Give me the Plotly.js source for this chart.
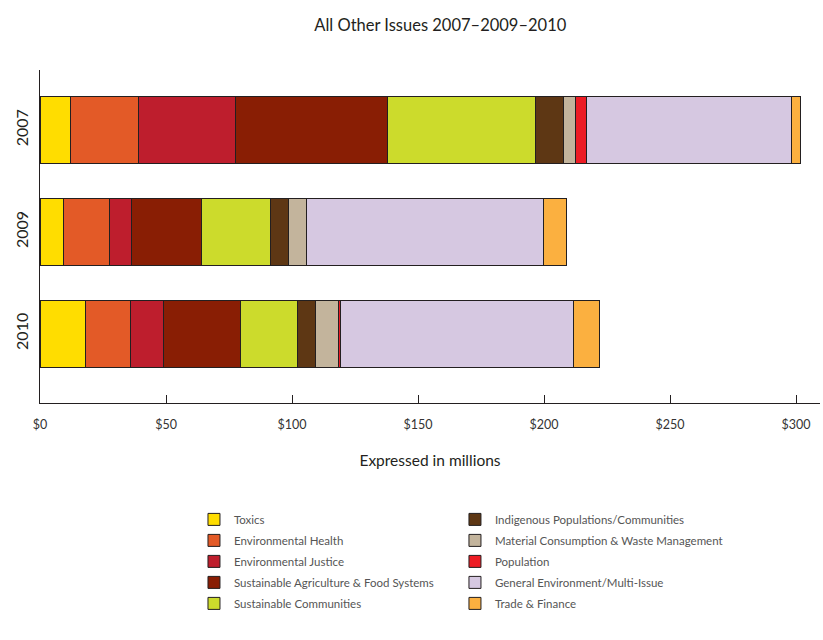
<!DOCTYPE html>
<html>
<head>
<meta charset="utf-8">
<script src="https://cdn.plot.ly/plotly-3.0.1.min.js"></script>
<style>html,body{margin:0;padding:0;background:#fff;}#chart{width:823px;height:640px;}</style>
</head>
<body>
<div id="chart"></div>
<script>
var years = ["2007", "2009", "2010"];
var seriesNames = ["Toxics", "Environmental Health", "Environmental Justice", "Sustainable Agriculture & Food Systems", "Sustainable Communities", "Indigenous Populations/Communities", "Material Consumption & Waste Management", "Population", "General Environment/Multi-Issue", "Trade & Finance"];
var seriesColors = ["#FFDD00", "#E35A27", "#BE1E2D", "#891E04", "#CCDB2C", "#5E3714", "#C3B49C", "#ED1C24", "#D6C8E1", "#FBB040"];
var legendColumn = ["legend", "legend", "legend", "legend", "legend", "legend2", "legend2", "legend2", "legend2", "legend2"];
var toxics = [12.2, 9.4, 17.9];
var envHealth = [26.9, 18.2, 18.0];
var envJustice = [38.3, 8.7, 13.0];
var sustAgriculture = [60.5, 27.6, 30.5];
var sustCommunities = [58.9, 27.7, 22.9];
var indigenous = [11.0, 7.1, 7.1];
var materialWaste = [4.8, 6.9, 9.2];
var population = [4.3, 0, 0.7];
var generalEnv = [81.1, 94.1, 92.5];
var tradeFinance = [3.9, 9.3, 10.3];
var xTickVals = [0, 50, 100, 150, 200, 250, 300];
var xTickText = ["$0", "$50", "$100", "$150", "$200", "$250", "$300"];

var allValues = [toxics, envHealth, envJustice, sustAgriculture, sustCommunities, indigenous, materialWaste, population, generalEnv, tradeFinance];
var traces = allValues.map(function (vals, i) {
  return {
    type: "bar",
    orientation: "h",
    name: seriesNames[i],
    y: years,
    x: vals,
    legend: legendColumn[i],
    legendgroup: "g" + i,
    marker: {color: seriesColors[i], line: {color: "#231F20", width: 1}},
    hoverinfo: "skip"
  };
});

var legendBase = {
  orientation: "v",
  traceorder: "grouped",
  tracegroupgap: 2,
  xanchor: "left",
  y: -0.306, yanchor: "top",
  font: {size: 11.5, color: "#555"},
  itemclick: false,
  bgcolor: "rgba(0,0,0,0)"
};

var layout = {
  width: 823,
  height: 640,
  barmode: "stack",
  bargap: 0.34,
  paper_bgcolor: "#fff",
  plot_bgcolor: "#fff",
  font: {family: "Lato, 'DejaVu Sans', sans-serif", color: "#231F20"},
  title: {text: "All Other Issues 2007–2009–2010", x: 0.535, xanchor: "center", y: 0.961, yanchor: "middle", font: {size: 16.5, color: "#231F20"}},
  margin: {l: 40, r: 3, t: 70, b: 237},
  showlegend: true,
  legend: Object.assign({}, legendBase, {x: 0.1974}),
  legend2: Object.assign({}, legendBase, {x: 0.532}),
  xaxis: {
    range: [0, 309.5],
    tickvals: xTickVals,
    ticktext: xTickText,
    ticks: "inside",
    ticklen: 8,
    tickcolor: "#231F20",
    ticklabelstandoff: 10,
    showgrid: false,
    zeroline: false,
    showline: true,
    linecolor: "#231F20",
    linewidth: 1,
    tickfont: {size: 12.5, color: "#333"},
    title: {text: "Expressed in millions", font: {size: 15.5, color: "#231F20"}, standoff: 24}
  },
  yaxis: {
    type: "category",
    categoryorder: "array",
    categoryarray: years,
    range: [2.68, -0.59],
    tickangle: -90,
    ticks: "",
    ticklabelstandoff: 5,
    showgrid: false,
    zeroline: false,
    showline: true,
    linecolor: "#231F20",
    linewidth: 1,
    tickfont: {size: 16, color: "#231F20"}
  }
};

Plotly.newPlot("chart", traces, layout, {displayModeBar: false, staticPlot: true});
</script>
</body>
</html>
